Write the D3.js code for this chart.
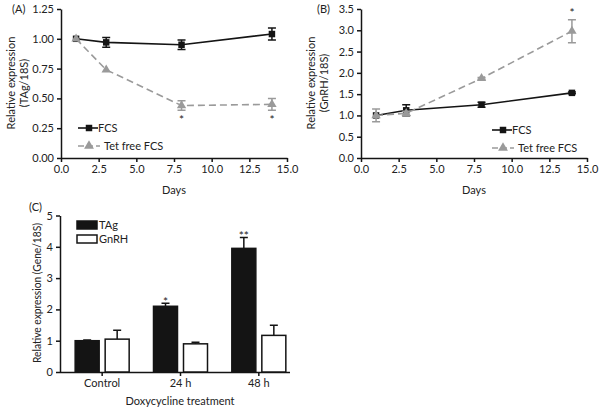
<!DOCTYPE html>
<html>
<head>
<meta charset="utf-8">
<script src="https://cdn.jsdelivr.net/npm/d3@7"></script>
<style>
  body { margin: 0; background: #fff; }
  svg text { font-family: Lato, "Open Sans", sans-serif; fill: #222; }
</style>
</head>
<body>
<svg id="chart" width="600" height="411"></svg>
<script>
// time course (days)
var days = [1, 3, 8, 14];
var dayTicks = [0, 2.5, 5, 7.5, 10, 12.5, 15];

// (A) TAg / 18S
var tagFcs = [1.00, 0.97, 0.95, 1.04];
var tagFcsErr = [0, 0.04, 0.04, 0.05];
var tagTet = [1.00, 0.74, 0.44, 0.45];
var tagTetErr = [0, 0, 0.04, 0.05];
var tagSig = ['', '', '*', '*'];
var tagTicks = [0, 0.25, 0.5, 0.75, 1.0, 1.25];

// (B) GnRH / 18S
var gnrhFcs = [1.00, 1.12, 1.25, 1.53];
var gnrhFcsErr = [0, 0.13, 0.06, 0.02];
var gnrhTet = [1.00, 1.05, 1.87, 2.98];
var gnrhTetErr = [0.15, 0.05, 0.02, 0.27];
var gnrhSig = ['', '', '', '*'];
var gnrhTicks = [0, 0.5, 1.0, 1.5, 2.0, 2.5, 3.0, 3.5];

// (C) doxycycline treatment
var treatments = ['Control', '24 h', '48 h'];
var tagBars = [1.0, 2.1, 3.95];
var tagBarsErr = [0.02, 0.1, 0.35];
var gnrhBars = [1.05, 0.9, 1.17];
var gnrhBarsErr = [0.28, 0.05, 0.32];
var barSig = ['', '*', '**'];
var barTicks = [0, 1, 2, 3, 4, 5];

var svg = d3.select('#chart');
var BLACK = '#141414', GREY = '#9a9a9a';

function styleAxis(g) {
  g.selectAll('path, line').attr('stroke', BLACK).attr('stroke-width', 1.5);
  g.selectAll('text').style('font-size', '11px').attr('fill', '#222');
}

function linePanel(opt) {
  var x = d3.scaleLinear().domain([0, 15]).range([opt.left, opt.right]);
  var y = d3.scaleLinear().domain([0, opt.ymax]).range([158, 9]);
  var g = svg.append('g');

  g.append('g').attr('transform', 'translate(0,158)')
      .call(d3.axisBottom(x).tickValues(dayTicks).tickFormat(d3.format('.1f')).tickSize(4).tickSizeOuter(0))
      .call(styleAxis);
  g.append('g').attr('transform', 'translate(' + opt.left + ',0)')
      .call(d3.axisLeft(y).tickValues(opt.ticks).tickFormat(d3.format(opt.fmt)).tickSize(4).tickSizeOuter(0))
      .call(styleAxis);

  g.append('text').attr('x', (opt.left + opt.right) / 2).attr('y', 194)
      .attr('text-anchor', 'middle').style('font-size', '11px').text('Days');
  var ylab = g.append('text').attr('transform', 'translate(' + (opt.left - 46) + ',83) rotate(-90)')
      .attr('text-anchor', 'middle').style('font-size', '11px');
  ylab.append('tspan').attr('x', 0).attr('dy', 0).text('Relative expression');
  ylab.append('tspan').attr('x', 0).attr('dy', 13).text(opt.ylabel);
  g.append('text').attr('x', opt.tagX).attr('y', 13).style('font-size', '11px').text(opt.tag);

  var series = [
    {vals: opt.fcs, err: opt.fcsErr, color: BLACK, dash: null, shape: d3.symbolSquare},
    {vals: opt.tet, err: opt.tetErr, color: GREY, dash: '7,4', shape: d3.symbolTriangle}
  ];
  var line = d3.line().x(function(d) { return x(d[0]); }).y(function(d) { return y(d[1]); });

  series.forEach(function(s) {
    var pts = days.map(function(d, i) { return [d, s.vals[i], s.err[i]]; });
    g.append('path').datum(pts).attr('d', line).attr('fill', 'none')
        .attr('stroke', s.color).attr('stroke-width', 1.6).attr('stroke-dasharray', s.dash);
    pts.forEach(function(p) {
      if (p[2] > 0) {
        var cx = x(p[0]), y1 = y(p[1] + p[2]), y2 = y(p[1] - p[2]);
        g.append('path').attr('d', 'M' + cx + ',' + y1 + 'V' + y2 + 'M' + (cx - 4) + ',' + y1 + 'H' + (cx + 4) +
            'M' + (cx - 4) + ',' + y2 + 'H' + (cx + 4))
            .attr('stroke', s.color).attr('stroke-width', 1.5).attr('fill', 'none');
      }
    });
    g.selectAll(null).data(pts).enter().append('path')
        .attr('d', d3.symbol().type(s.shape).size(s.shape === d3.symbolSquare ? 42 : 38))
        .attr('transform', function(d) { return 'translate(' + x(d[0]) + ',' + y(d[1]) + ')'; })
        .attr('fill', s.color);
  });

  // significance marks on the tet-free series
  days.forEach(function(d, i) {
    if (!opt.sig[i]) return;
    var yy = opt.sigBelow ? y(opt.tet[i] - opt.tetErr[i]) + 14 : y(opt.tet[i] + opt.tetErr[i]) - 3;
    g.append('text').attr('x', x(d)).attr('y', yy).attr('text-anchor', 'middle')
        .style('font-size', '12px').text(opt.sig[i]);
  });

  // legend
  var lx = opt.legX;
  series.forEach(function(s, i) {
    var ly = opt.legY + i * 18;
    g.append('line').attr('x1', lx).attr('x2', lx + (i ? 22 : 20)).attr('y1', ly).attr('y2', ly)
        .attr('stroke', s.color).attr('stroke-width', 1.6).attr('stroke-dasharray', i ? '6,3' : null);
    g.append('path').attr('d', d3.symbol().type(s.shape).size(42)())
        .attr('transform', 'translate(' + (lx + 11) + ',' + ly + ')').attr('fill', s.color);
    g.append('text').attr('x', lx + (i ? 26 : 20)).attr('y', ly + 4).style('font-size', '11px')
        .text(i ? 'Tet free FCS' : 'FCS');
  });
}

linePanel({left: 61, right: 287, ymax: 1.25, ticks: tagTicks, fmt: '.2f', ylabel: '(TAg/18S)', tag: '(A)', tagX: 12,
  fcs: tagFcs, fcsErr: tagFcsErr, tet: tagTet, tetErr: tagTetErr, sig: tagSig, sigBelow: true,
  legX: 78, legY: 128});
linePanel({left: 361, right: 587, ymax: 3.5, ticks: gnrhTicks, fmt: '.1f', ylabel: '(GnRH/18S)', tag: '(B)', tagX: 317,
  fcs: gnrhFcs, fcsErr: gnrhFcsErr, tet: gnrhTet, tetErr: gnrhTetErr, sig: gnrhSig, sigBelow: false,
  legX: 492, legY: 130});

// (C) bar chart
(function() {
  var x = d3.scaleBand().domain(treatments).range([63, 298]);
  var y = d3.scaleLinear().domain([0, 5]).range([372, 215.5]);
  var g = svg.append('g');
  var xAx = g.append('g').attr('transform', 'translate(0,372)')
      .call(d3.axisBottom(x).tickSize(4).tickSizeOuter(0)).call(styleAxis);
  xAx.select('.domain').attr('d', 'M60,0.5H290');
  g.append('g').attr('transform', 'translate(60,0)')
      .call(d3.axisLeft(y).tickValues(barTicks).tickFormat(d3.format('d')).tickSize(4).tickSizeOuter(0))
      .call(styleAxis);

  g.append('text').attr('x', 180).attr('y', 405).attr('text-anchor', 'middle')
      .style('font-size', '11px').text('Doxycycline treatment');
  g.append('text').attr('transform', 'translate(37,293) rotate(-90)').attr('dy', 4)
      .attr('text-anchor', 'middle').style('font-size', '10.5px')
      .attr('textLength', 140).attr('lengthAdjust', 'spacingAndGlyphs')
      .text('Relative expression (Gene/18S)');
  g.append('text').attr('x', 29).attr('y', 211).style('font-size', '11px').text('(C)');

  var groups = [
    {vals: tagBars, err: tagBarsErr, fill: BLACK, off: -27, name: 'TAg'},
    {vals: gnrhBars, err: gnrhBarsErr, fill: '#fff', off: 3, name: 'GnRH'}
  ];
  groups.forEach(function(s, k) {
    treatments.forEach(function(t, i) {
      var cx = x(t) + x.bandwidth() / 2 + s.off;
      var top = y(s.vals[i] + s.err[i]);
      g.append('path').attr('d', 'M' + (cx + 12) + ',' + y(s.vals[i]) + 'V' + top + 'M' + (cx + 8) + ',' + top + 'H' + (cx + 16))
          .attr('stroke', BLACK).attr('stroke-width', 1.5).attr('fill', 'none');
      g.append('rect').attr('x', cx).attr('y', y(s.vals[i])).attr('width', 24)
          .attr('height', 372 - y(s.vals[i])).attr('fill', s.fill)
          .attr('stroke', BLACK).attr('stroke-width', 1.5);
      if (k === 0 && barSig[i]) {
        g.append('text').attr('x', cx + 12).attr('y', top + 3).attr('text-anchor', 'middle')
            .style('font-size', '12px').text(barSig[i]);
      }
    });
    var ly = 221 + k * 14;
    g.append('rect').attr('x', 77).attr('y', ly).attr('width', 20).attr('height', 8)
        .attr('fill', s.fill).attr('stroke', BLACK).attr('stroke-width', 1.5);
    g.append('text').attr('x', 99).attr('y', ly + 8).style('font-size', '11px').text(s.name);
  });
})();
</script>
</body>
</html>
